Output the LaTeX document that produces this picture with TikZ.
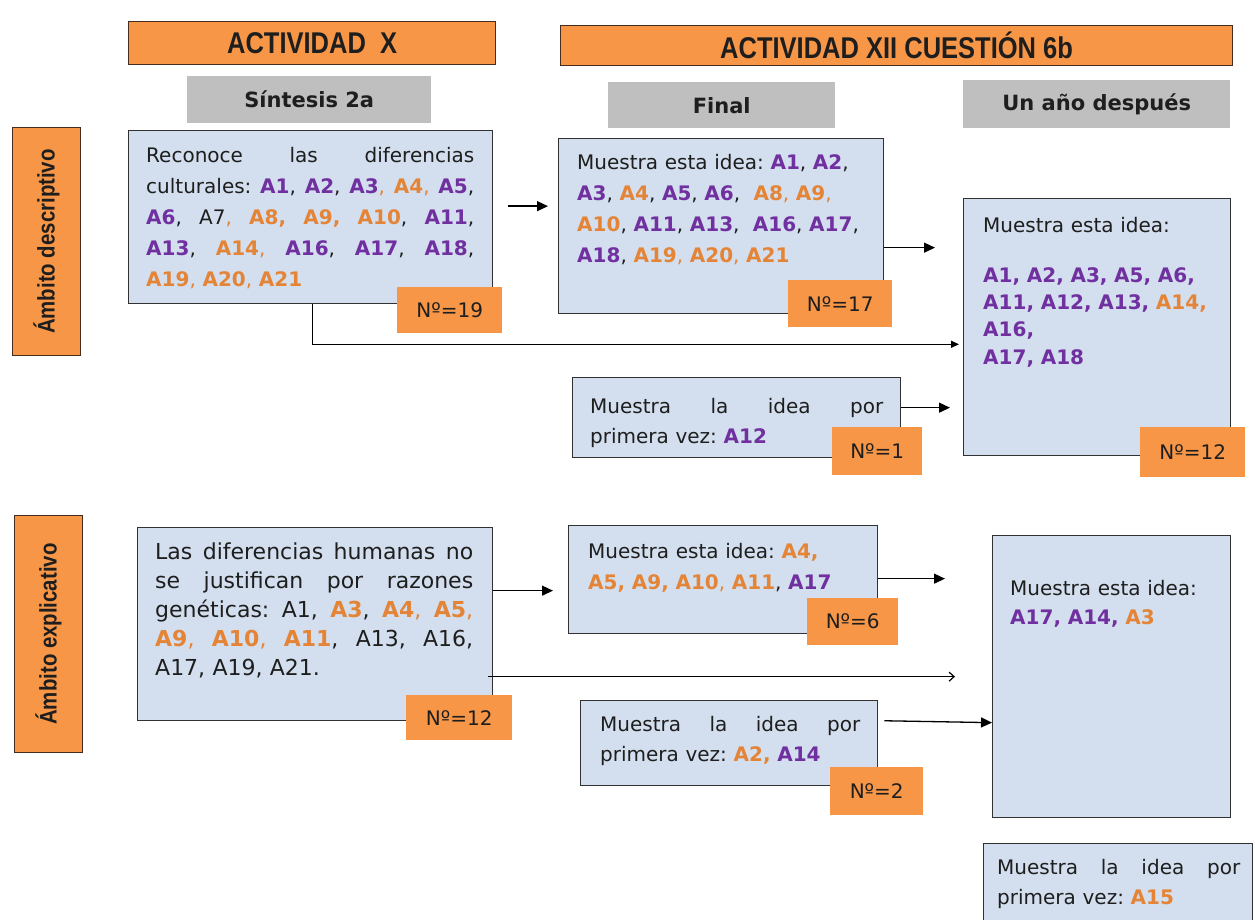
\documentclass[tikz,border=0pt]{standalone}
\usepackage{fontspec}
\setmainfont{DejaVu Sans}
\newfontfamily\hdrfont[FakeStretch=0.85]{Liberation Sans}
\usetikzlibrary{arrows.meta}
\setlength{\parindent}{0pt}
\frenchspacing

\definecolor{hdrorange}{RGB}{247,150,70}
\definecolor{hdredge}{RGB}{70,45,30}
\definecolor{subgray}{RGB}{191,191,191}
\definecolor{cardfill}{RGB}{211,223,238}
\definecolor{cardedge}{RGB}{50,50,50}
\definecolor{apurple}{RGB}{112,48,160}
\definecolor{aorange}{RGB}{228,132,55}
\definecolor{inkgray}{RGB}{30,30,30}

% student codes in colour
\newcommand{\idp}[1]{\textcolor{apurple}{\textbf{#1}}}
\newcommand{\ido}[1]{\textcolor{aorange}{\textbf{#1}}}
\newcommand{\oc}{\textcolor{aorange}{,}}
% justified line of a given width (stretchable interword spaces)
\newcommand{\jline}[2]{{\spaceskip=0pt\xspaceskip=0pt\makebox[#1][s]{#2}}}

\tikzset{
  hdr/.style={fill=hdrorange, draw=hdredge, line width=1.2pt, inner sep=0pt,
    anchor=north west, text=inkgray,
    font=\hdrfont\bfseries\fontsize{30}{30}\selectfont},
  subhdr/.style={fill=subgray, draw=none, inner sep=0pt, anchor=north west,
    text=inkgray, font=\bfseries\fontsize{21}{21}\selectfont},
  vlab/.style={fill=hdrorange, draw=hdredge, line width=1.2pt, inner sep=0pt,
    anchor=north west},
  vtext/.style={rotate=90, inner sep=0pt, text=inkgray,
    font=\hdrfont\bfseries\fontsize{24}{24}\selectfont},
  card/.style={fill=cardfill, draw=cardedge, line width=1.3pt, inner sep=0pt,
    anchor=north west},
  badge/.style={fill=hdrorange, draw=none, inner sep=0pt, anchor=north west,
    text=inkgray, font=\fontsize{20}{20}\selectfont},
  txt/.style={inner sep=0pt, anchor=base west, align=left, text=inkgray},
  arr/.style={line width=1.3pt, -{Triangle[length=11pt,width=10pt]}},
  arrsmall/.style={line width=1.2pt, -{Triangle[length=8pt,width=7pt]}},
  arropen/.style={line width=1.2pt, -{Straight Barb[length=5pt,width=9pt]}}
}

\begin{document}
\begin{tikzpicture}[x=1pt,y=-1pt]
\useasboundingbox (0,0) rectangle (1255,920);
\fill[white] (0,0) rectangle (1255,920);

% column headers
\node[hdr, minimum width=367pt, minimum height=43pt] (hx) at (128,21) {ACTIVIDAD\ \ X};
\node[hdr, minimum width=672pt, minimum height=40pt] (hxii) at (560,25) {ACTIVIDAD XII CUESTIÓN 6b};
\node[subhdr, minimum width=244pt, minimum height=47pt] (ssint) at (187,76) {Síntesis 2a};
\node[subhdr, minimum width=227pt, minimum height=46pt] (sfin) at (608,82) {Final};
\node[subhdr, minimum width=267pt, minimum height=48pt] (sano) at (963,80) {Un año después};

% row labels
\node[vlab, minimum width=68pt, minimum height=228pt] (vd) at (12,127) {};
\node[vtext] (vdt) at (vd.center) {Ámbito descriptivo};
\node[vlab, minimum width=68pt, minimum height=237pt] (ve) at (14,515) {};
\node[vtext] (vet) at (ve.center) {Ámbito explicativo};

% descriptive row
\node[card, minimum width=364pt, minimum height=173pt] (b1) at (128,130) {};
\node[txt, text width=330pt, font=\fontsize{20}{31}\selectfont] (b1t) at (146,163) {%
\jline{328pt}{Reconoce las diferencias}\\
\jline{328pt}{culturales: \idp{A1}, \idp{A2}, \idp{A3}\oc{} \ido{A4}\oc{} \idp{A5},}\\
\jline{328pt}{\idp{A6}, A7\oc{} \ido{A8,} \ido{A9,} \ido{A10}, \idp{A11},}\\
\jline{328pt}{\idp{A13}, \ido{A14}\oc{} \idp{A16}, \idp{A17}, \idp{A18},}\\
\ido{A19}\oc{} \ido{A20}\oc{} \ido{A21}};
\node[badge, minimum width=105pt, minimum height=46pt] (n19) at (397,287) {Nº=19};

\node[card, minimum width=325pt, minimum height=175pt] (b2) at (558,138) {};
\node[txt, text width=305pt, font=\fontsize{20}{31}\selectfont] (b2t) at (577,170) {%
Muestra esta idea: \idp{A1}, \idp{A2},\\
\idp{A3}, \ido{A4}, \idp{A5}, \idp{A6}, \ \ido{A8}\oc{} \ido{A9}\oc\\
\ido{A10}, \idp{A11}, \idp{A13}, \ \idp{A16}, \idp{A17},\\
\idp{A18}, \ido{A19}\oc{} \ido{A20}\oc{} \ido{A21}};
\node[badge, minimum width=104pt, minimum height=47pt] (n17) at (788,280) {Nº=17};

\node[card, minimum width=267pt, minimum height=257pt] (b3) at (963,198) {};
\node[txt, text width=245pt, font=\fontsize{20}{27}\selectfont] (b3t) at (983,233) {%
Muestra esta idea:\\[23pt]
\idp{A1, A2, A3, A5, A6,}\\
\idp{A11, A12, A13,} \ido{A14,}\\
\idp{A16,}\\
\idp{A17, A18}};
\node[badge, minimum width=105pt, minimum height=50pt] (n12a) at (1140,427) {Nº=12};

\node[card, minimum width=328pt, minimum height=80pt] (b4) at (572,377) {};
\node[txt, text width=295pt, font=\fontsize{20}{30}\selectfont] (b4t) at (590,413) {%
\jline{293pt}{Muestra la idea por}\\
primera vez: \idp{A12}};
\node[badge, minimum width=90pt, minimum height=48pt] (n1) at (832,427) {Nº=1};

% explanatory row
\node[card, minimum width=355pt, minimum height=193pt] (b5) at (137,527) {};
\node[txt, text width=320pt, font=\fontsize{22}{29}\selectfont] (b5t) at (155,559) {%
\jline{318pt}{Las diferencias humanas no}\\
\jline{318pt}{se justifican por razones}\\
\jline{318pt}{genéticas: A1, \ido{A3}, \ido{A4}\oc{} \ido{A5}\oc}\\
\jline{318pt}{\ido{A9}\oc{} \ido{A10}\oc{} \ido{A11}, A13, A16,}\\
A17, A19, A21.};
\node[badge, minimum width=106pt, minimum height=45pt] (n12b) at (406,695) {Nº=12};

\node[card, minimum width=309pt, minimum height=108pt] (b6) at (568,525) {};
\node[txt, text width=280pt, font=\fontsize{20}{31}\selectfont] (b6t) at (588,558) {%
Muestra esta idea: \ido{A4,}\\
\ido{A5, A9, A10}\oc{} \ido{A11}, \idp{A17}};
\node[badge, minimum width=91pt, minimum height=47pt] (n6) at (807,598) {Nº=6};

\node[card, minimum width=238pt, minimum height=282pt] (b7) at (992,535) {};
\node[txt, text width=215pt, font=\fontsize{20}{29}\selectfont] (b7t) at (1010,595) {%
Muestra esta idea:\\
\idp{A17, A14,} \ido{A3}};

\node[card, minimum width=297pt, minimum height=85pt] (b8) at (580,700) {};
\node[txt, text width=262pt, font=\fontsize{20}{30}\selectfont] (b8t) at (600,731) {%
\jline{260pt}{Muestra la idea por}\\
primera vez: \ido{A2,} \idp{A14}};
\node[badge, minimum width=93pt, minimum height=48pt] (n2) at (830,767) {Nº=2};

\begin{scope}
\clip (0,0) rectangle (1255,920);
\node[card, minimum width=269pt, minimum height=90pt] (b9) at (983,843) {};
\node[txt, text width=245pt, font=\fontsize{20}{30}\selectfont] (b9t) at (997,874) {%
\jline{243pt}{Muestra la idea por}\\
primera vez: \ido{A15}};
\end{scope}

% connectors
\coordinate (p1) at ([yshift=11pt]b1.east);
\draw[arr, shorten <=15pt, shorten >=10pt] (p1) -- (p1 -| b2.west);

\coordinate (p2) at ([yshift=-21.5pt]b2.east);
\draw[arr, shorten >=28pt] (p2) -- (p2 -| b3.west);

\coordinate (p3) at ([xshift=2pt]b1.south);
\coordinate (p3b) at ([yshift=-40pt]p3);
\draw[arrsmall, shorten >=4pt] (p3) -- (p3b) -- (p3b -| b3.west);

\coordinate (p4) at ([yshift=10pt]b4.east);
\draw[arr, shorten >=13pt] (p4) -- (p4 -| b3.west);

\coordinate (p5) at ([yshift=33.5pt]b5.east);
\draw[arr, shorten >=15pt] (p5) -- (p5 -| b6.west);

\coordinate (p6) at ([xshift=-5pt,yshift=-52.5pt]b5.east);
\draw[arropen, shorten >=37pt] (p6) -- (p6 -| b7.west);

\coordinate (p7) at ([yshift=1pt]b6.east);
\draw[arr, shorten >=47pt] (p7) -- (p7 -| b7.west);

\coordinate (p8) at ([yshift=22.5pt]b8.east);
\draw[arr, shorten <=6pt] (p8) -- ([yshift=-46pt]b7.west);
\end{tikzpicture}
\end{document}
